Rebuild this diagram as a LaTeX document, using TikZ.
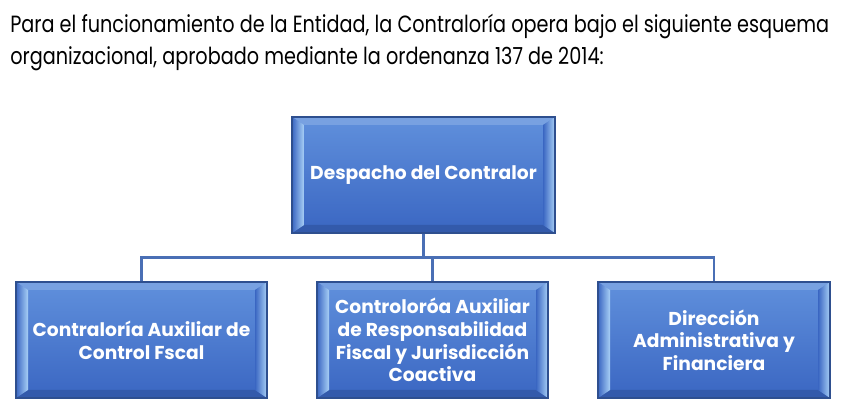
\documentclass[tikz,border=0pt]{standalone}
\usepackage{fontspec}
\setmainfont{Poppins}
\newfontfamily\encabezado[FakeStretch=0.82]{Poppins}
\usetikzlibrary{calc,positioning}

\definecolor{caraA}{HTML}{6090DC}
\definecolor{caraB}{HTML}{3A66C2}
\definecolor{borde}{HTML}{2E4F8F}
\definecolor{brillo}{HTML}{A8D0F6}
\definecolor{linea}{HTML}{4A6FB5}

\begin{document}
\begin{tikzpicture}[x=0.75pt,y=-0.75pt]
  \tikzstyle{unidad}=[rectangle,draw=borde,line width=0.9pt,top color=caraA,bottom color=caraB,
      text=white,font=\bfseries\fontsize{14}{17}\selectfont,align=center,
      minimum height=87pt,inner sep=0pt,
      path picture={
        \path (path picture bounding box.north west) coordinate (bnw)
              (path picture bounding box.north east) coordinate (bne)
              (path picture bounding box.south east) coordinate (bse)
              (path picture bounding box.south west) coordinate (bsw);
        \fill[caraA!85!white] (bnw) -- (bne) -- ($(bne)+(-9pt,-6pt)$) -- ($(bnw)+(9pt,-6pt)$) -- cycle;
        \fill[caraB!88!black] (bsw) -- (bse) -- ($(bse)+(-9pt,6pt)$) -- ($(bsw)+(9pt,6pt)$) -- cycle;
        \shade[left color=caraB,right color=brillo] (bnw) -- ($(bnw)+(9pt,-6pt)$) -- ($(bsw)+(9pt,6pt)$) -- (bsw) -- cycle;
        \shade[left color=caraB,right color=brillo] ($(bne)+(-9pt,-6pt)$) -- (bne) -- (bse) -- ($(bse)+(-9pt,6pt)$) -- cycle;
      }]
  \tikzstyle{rama}=[draw=linea,line width=1.6pt]

  \useasboundingbox (0,0) rectangle (843,413);

  \node[anchor=north west,align=left,inner sep=0pt,font=\encabezado\fontsize{17.6}{24}\selectfont] (intro) at (10,14)
    {Para el funcionamiento de la Entidad, la Contraloría opera bajo el siguiente esquema\\
     organizacional, aprobado mediante la ordenanza 137 de 2014:};

  \node[unidad,minimum width=197.25pt] (despacho) at (423.5,175) {Despacho del Contralor};
  \node[unidad,minimum width=188.25pt] (fiscal)   at (141.5,340) {Contraloría Auxiliar de\\Control Fscal};
  \node[unidad,minimum width=173.25pt] (juris)    at (432.5,340) {Controloróa Auxiliar\\de Responsabilidad\\Fiscal y Jurisdicción\\Coactiva};
  \node[unidad,minimum width=174pt]    (admin)    at (714,340)   {Dirección\\Administrativa y\\Financiera};

  % barra horizontal del organigrama
  \coordinate (barra) at (423.5,257.5);
  \path[rama] (despacho) -- (barra);
  \path[rama] (barra) -| (fiscal);
  \path[rama] (barra) -| (juris);
  \path[rama] (barra) -| (admin);
\end{tikzpicture}
\end{document}
